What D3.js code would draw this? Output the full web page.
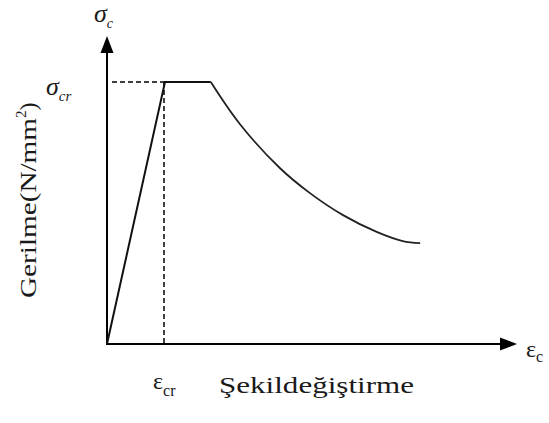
<!DOCTYPE html>
<html>
<head>
<meta charset="utf-8">
<script src="https://cdn.jsdelivr.net/npm/d3@7"></script>
<style>
  html, body { margin: 0; padding: 0; background: #fff; }
  svg { display: block; }
  text { font-family: "Liberation Serif", "Times New Roman", serif; fill: #1a1a1a; }
</style>
</head>
<body>
<svg id="chart" width="549" height="423"></svg>
<script>
// Idealised stress–strain diagram for concrete (strain in units of ε_cr, stress in units of σ_cr)
const linearStrain = [0, 1.0, 1.79];
const linearStress = [0, 1.0, 1.0];

const softeningStrain = [1.79, 2.29, 2.98, 3.50, 4.07, 4.66, 5.10, 5.40];
const softeningStress = [1.00, 0.84, 0.672, 0.576, 0.492, 0.427, 0.393, 0.385];

const crackStrain = 1.0;
const crackStress = 1.0;

const yAxisTitle = "Gerilme(N/mm";
const xAxisTitle = "Şekildeğiştirme";

const svg = d3.select("#chart");

const x = d3.scaleLinear().domain([0, 7.07]).range([107, 517]);
const y = d3.scaleLinear().domain([0, 1.176]).range([344, 36]);

// Axes with arrow heads
svg.append("line")
  .attr("x1", x(0)).attr("y1", y(0))
  .attr("x2", x(7.07) - 14).attr("y2", y(0))
  .attr("stroke", "#000").attr("stroke-width", 2);
svg.append("path")
  .attr("d", `M${x(7.07)},${y(0)} L${x(7.07) - 17},${y(0) - 6.5} L${x(7.07) - 17},${y(0) + 6.5} Z`)
  .attr("fill", "#000");

svg.append("line")
  .attr("x1", x(0)).attr("y1", y(0) + 1)
  .attr("x2", x(0)).attr("y2", y(1.176) + 14)
  .attr("stroke", "#000").attr("stroke-width", 2);
svg.append("path")
  .attr("d", `M${x(0)},${y(1.176)} L${x(0) - 6.5},${y(1.176) + 17} L${x(0) + 6.5},${y(1.176) + 17} Z`)
  .attr("fill", "#000");

// Dashed reference lines at the cracking point
svg.append("line")
  .attr("x1", x(0) + 5).attr("y1", y(crackStress))
  .attr("x2", x(crackStrain)).attr("y2", y(crackStress))
  .attr("stroke", "#000").attr("stroke-width", 1.5)
  .attr("stroke-dasharray", "5,3");
svg.append("line")
  .attr("x1", x(crackStrain) - 1).attr("y1", y(crackStress))
  .attr("x2", x(crackStrain) - 1).attr("y2", y(0))
  .attr("stroke", "#000").attr("stroke-width", 1.5)
  .attr("stroke-dasharray", "5,3");

// Rising branch and plateau
const linPts = linearStrain.map((d, i) => [x(d), y(linearStress[i])]);
svg.append("path")
  .attr("d", d3.line()(linPts))
  .attr("fill", "none").attr("stroke", "#111").attr("stroke-width", 2);

// Softening branch
const softPts = softeningStrain.map((d, i) => [x(d), y(softeningStress[i])]);
svg.append("path")
  .attr("d", d3.line().curve(d3.curveCatmullRom.alpha(0.5))(softPts))
  .attr("fill", "none").attr("stroke", "#222").attr("stroke-width", 1.8);

// Axis symbols
const sigC = svg.append("text").attr("x", 94).attr("y", 22)
  .style("font-style", "italic").style("font-size", "26px");
sigC.append("tspan").text("σ");
sigC.append("tspan").attr("dy", 6).style("font-size", "14px").text("c");

const epsC = svg.append("text").attr("x", 526).attr("y", 357)
  .style("font-size", "24px");
epsC.append("tspan").text("ε");
epsC.append("tspan").attr("dy", 5).style("font-size", "16px").text("c");

const sigCr = svg.append("text").attr("x", 46).attr("y", 95)
  .style("font-style", "italic").style("font-size", "26px");
sigCr.append("tspan").text("σ");
sigCr.append("tspan").attr("dy", 6).style("font-size", "15px").text("cr");

const epsCr = svg.append("text").attr("x", 153).attr("y", 389)
  .style("font-size", "24px");
epsCr.append("tspan").text("ε");
epsCr.append("tspan").attr("dy", 7).style("font-size", "16px").text("cr");

// Axis titles
svg.append("text").attr("x", 219).attr("y", 393)
  .style("font-size", "24px")
  .attr("textLength", 195).attr("lengthAdjust", "spacingAndGlyphs")
  .text(xAxisTitle);

const yt = svg.append("text")
  .attr("transform", "translate(36,298) rotate(-90)")
  .style("font-size", "24px");
yt.append("tspan").attr("textLength", 180).attr("lengthAdjust", "spacingAndGlyphs").text(yAxisTitle);
yt.append("tspan").attr("dy", -10).style("font-size", "15px").text("2");
yt.append("tspan").attr("dy", 10).text(")");
</script>
</body>
</html>
